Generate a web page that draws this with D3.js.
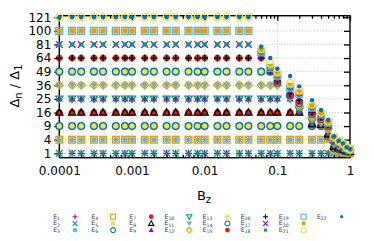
<!DOCTYPE html>
<html><head><meta charset="utf-8">
<script src="https://cdn.jsdelivr.net/npm/d3@7"></script>
<style>body{margin:0;background:#fff}svg{display:block}text{font-family:"DejaVu Sans",sans-serif}</style>
</head><body><svg id="c" width="374" height="241"></svg>
<script>
// ---- data ----
const bz = [0.0001,0.00015,0.0002,0.0003,0.0004,0.0006,0.0008,
            0.001,0.0015,0.002,0.003,0.004,0.006,0.008,
            0.01,0.015,0.02,0.03,0.04,0.06,0.08,
            0.1,0.15,0.2,0.3,0.4,0.5,0.6,0.7,0.8,0.9,1];
const yTicks = [1,4,9,16,25,36,49,64,81,100,121];
const xTicks = [0.0001,0.001,0.01,0.1,1];
const xTickLabels = ["0.0001","0.001","0.01","0.1","1"];
const seriesNames = ["E1","E2","E3","E4","E5","E6","E7","E8","E9","E10","E11","E12","E13","E14","E15","E16","E17","E18","E19","E20","E21","E22"];
const E1  = [1,1,1,1,1,1,1, 1,1,1,1,1,1,1, 1,1,1,1,1,1,1, 1,1,1,1,1,1,1,1,1,0.95,0.9];
const E2  = [1,1,1,1,1,1,1, 1,1,1,1,1,1,1, 1,1,1,1,1,1,1, 1,1,1,1,1,1,1.05,1,1,0.97,0.92];
const E3  = [4,4,4,4,4,4,4, 4,4,4,4,4,4,4, 4,4,4,4,4,4,4, 4,4,4,4,4,4,1.3,1.2,1.1,1.05,1];
const E4  = [4,4,4,4,4,4,4, 4,4,4,4,4,4,4, 4,4,4,4,4,4,4, 4,4,4,4,4,4.2,1.5,1.35,1.2,1.1,1.05];
const E5  = [9,9,9,9,9,9,9, 9,9,9,9,9,9,9, 9,9,9,9,9,9,9, 9,9,9,9,9,4.5,1.7,1.5,1.35,1.2,1.1];
const E6  = [9,9,9,9,9,9,9, 9,9,9,9,9,9,9, 9,9,9,9,9,9,9, 9,9,9,9,9,4.9,1.9,1.65,1.45,1.3,1.15];
const E7  = [16,16,16,16,16,16,16, 16,16,16,16,16,16,16, 16,16,16,16,16,16,16, 16,16,16,9.5,9.3,5.3,2.1,1.8,1.55,1.35,1.2];
const E8  = [16,16,16,16,16,16,16, 16,16,16,16,16,16,16, 16,16,16,16,16,16,16, 16,16,16,10,9.6,5.8,2.3,1.95,1.65,1.4,1.25];
const E9  = [25,25,25,25,25,25,25, 25,25,25,25,25,25,25, 25,25,25,25,25,25,25, 25,25,17,10.5,10,6.3,2.5,2.1,1.75,1.45,1.3];
const E10 = [25,25,25,25,25,25,25, 25,25,25,25,25,25,25, 25,25,25,25,25,25,25, 25,25,17.5,11,10.3,6.8,2.7,2.25,1.85,1.5,1.33];
const E11 = [36,36,36,36,36,36,36, 36,36,36,36,36,36,36, 36,36,36,36,36,36,36, 36,26,19,12,10.7,7.3,2.9,2.4,1.95,1.55,1.36];
const E12 = [36,36,36,36,36,36,36, 36,36,36,36,36,36,36, 36,36,36,36,36,36,36, 36,26.5,20,13,11.2,7.8,3.1,2.55,2.05,1.6,1.4];
const E13 = [49,49,49,49,49,49,49, 49,49,49,49,49,49,49, 49,49,49,49,49,49,49, 37,27,21,14,11.8,8.3,3.3,2.7,2.15,1.65,1.43];
const E14 = [49,49,49,49,49,49,49, 49,49,49,49,49,49,49, 49,49,49,49,49,49,49, 38,27.5,22,15,12.3,8.8,3.5,2.85,2.25,1.7,1.46];
const E15 = [64,64,64,64,64,64,64, 64,64,64,64,64,64,64, 64,64,64,64,64,64,49.5, 39,28,23,15.5,12.8,9.2,3.7,3,2.35,1.75,1.5];
const E16 = [64,64,64,64,64,64,64, 64,64,64,64,64,64,64, 64,64,64,64,64,64,49.8, 40,29,24,16,13.3,9.6,3.9,3.1,2.45,1.8,1.53];
const E17 = [81,81,81,81,81,81,81, 81,81,81,81,81,81,81, 81,81,81,81,81,67,50, 41,31,26,17,13.8,10,4.1,3.2,2.55,1.85,1.56];
const E18 = [81,81,81,81,81,81,81, 81,81,81,81,81,81,81, 81,81,81,81,81,69,50.5, 42,32,27,18,14.3,10.3,4.3,3.3,2.6,1.9,1.6];
const E19 = [100,100,100,100,100,100,100, 100,100,100,100,100,100,100, 100,100,100,100,100,71,53, 45,34,29,19,15,10.6,4.5,3.4,2.7,1.95,1.63];
const E20 = [100,100,100,100,100,100,100, 100,100,100,100,100,100,100, 100,100,100,100,100,73,54, 46,36,30,20,15.5,10.9,4.7,3.5,2.8,2,1.66];
const E21 = [121,121,121,121,121,121,121, 121,121,121,121,121,121,121, 121,121,121,121,121,75,58, 49,38,32,21,16,11.2,4.9,3.6,2.9,2.05,1.7];
const E22 = [121,121,121,121,121,121,121, 121,121,121,121,121,121,121, 121,121,121,121,121,78,64, 52,44.6,35,24,17.5,11.9,5,3.7,3,2.1,1.75];
const seriesValues = [E1,E2,E3,E4,E5,E6,E7,E8,E9,E10,E11,E12,E13,E14,E15,E16,E17,E18,E19,E20,E21,E22];

// ---- styles ----
const C = {pu:"#9400d3",gr:"#009e73",lb:"#56b4e9",or:"#e69f00",ye:"#f0e442",bl:"#0072b2",re:"#e51e10",bk:"#000000"};
const styles = [
 ["plus",C.pu,3.5],["cross",C.gr,3.3],["star",C.lb,3.3],["sqO",C.or,3.4],["sqF",C.ye,3.1],["ciO",C.bl,3.4],
 ["ciF",C.re,3.3],["trUO",C.bk,3.6],["trUF",C.pu,3.6],["trDO",C.gr,3.6],["trDF",C.lb,3.6],["diO",C.or,3.9],
 ["diF",C.ye,3.8],["ciO",C.bl,3.4],["ciF",C.re,3.3],["plus",C.bk,3.5],["cross",C.pu,3.3],["sqF",C.gr,2.1],
 ["sqO",C.lb,3.5],["sqF",C.or,2.6],["ciO",C.ye,3.6],["ciF",C.bl,2.2]
];

const svg = d3.select("#c");
const L = 59.3, R = 350, T = 15.7, B = 157.7;
const x = d3.scaleLog().domain([0.0001,1]).range([L,R]);
const y = d3.scaleSqrt().domain([0.46,123.5]).range([B,T]);

// grid
const g = svg.append("g");
g.selectAll(".hg").data(yTicks).join("line")
  .attr("x1",L).attr("x2",R).attr("y1",d=>y(d)).attr("y2",d=>y(d))
  .attr("stroke","#b8b8b8").attr("stroke-width",0.9).attr("stroke-dasharray","1,2");
g.selectAll(".vg").data(xTicks.slice(1,-1)).join("line")
  .attr("y1",T).attr("y2",B).attr("x1",d=>x(d)).attr("x2",d=>x(d))
  .attr("stroke","#b8b8b8").attr("stroke-width",0.9).attr("stroke-dasharray","1,2");

// axes
const minor = [];
for (let e=-4;e<0;e++) for (let k=2;k<=9;k++) minor.push(k*Math.pow(10,e));
const ax = svg.append("g");
const bottom = d3.axisBottom(x).tickValues(xTicks).tickFormat((d,i)=>xTickLabels[i]).tickSize(-5).tickPadding(9);
ax.append("g").attr("transform",`translate(0,${B})`).call(bottom);
ax.append("g").attr("transform",`translate(0,${B})`).call(d3.axisBottom(x).tickValues(minor).tickFormat("").tickSize(-3));
ax.append("g").attr("transform",`translate(0,${T})`).call(d3.axisTop(x).tickValues(xTicks).tickFormat("").tickSize(-5));
ax.append("g").attr("transform",`translate(0,${T})`).call(d3.axisTop(x).tickValues(minor).tickFormat("").tickSize(-3));
ax.append("g").attr("transform",`translate(${L},0)`).call(d3.axisLeft(y).tickValues(yTicks).tickFormat(d3.format("d")).tickSize(5).tickPadding(3));
ax.append("g").attr("transform",`translate(${R},0)`).call(d3.axisRight(y).tickValues(yTicks).tickFormat("").tickSize(-6));
ax.selectAll(".domain").remove();
ax.selectAll(".tick line").attr("stroke","#000").attr("stroke-width",1.3);
ax.selectAll(".tick text").attr("font-size",12).attr("fill","#000").attr("font-family","DejaVu Sans");
svg.append("rect").attr("x",L).attr("y",T).attr("width",R-L).attr("height",B-T)
  .attr("fill","none").attr("stroke","#000").attr("stroke-width",1.4);

// markers
function marker(sel, type, col, h, sw){
  const open = {stroke:col,"stroke-width":sw,fill:"none"};
  const fill = {fill:col,stroke:"none"};
  let el;
  const a = (e,o)=>{for(const k in o) e.attr(k,o[k]); return e;};
  switch(type){
    case "plus": return a(sel.append("path").attr("d",`M${-h},0H${h}M0,${-h}V${h}`),open);
    case "cross": return a(sel.append("path").attr("d",`M${-h},${-h}L${h},${h}M${-h},${h}L${h},${-h}`),open);
    case "star": return a(sel.append("path").attr("d",`M${-h},0H${h}M0,${-h}V${h}M${-h*.75},${-h*.75}L${h*.75},${h*.75}M${-h*.75},${h*.75}L${h*.75},${-h*.75}`),open);
    case "sqO": return a(sel.append("rect").attr("x",-h).attr("y",-h).attr("width",2*h).attr("height",2*h),open);
    case "sqF": return a(sel.append("rect").attr("x",-h).attr("y",-h).attr("width",2*h).attr("height",2*h),fill);
    case "ciO": return a(sel.append("circle").attr("r",h),open);
    case "ciF": return a(sel.append("circle").attr("r",h),fill);
    case "trUO": return a(sel.append("path").attr("d",`M0,${-h}L${h},${h*.75}L${-h},${h*.75}Z`),open);
    case "trUF": return a(sel.append("path").attr("d",`M0,${-h}L${h},${h*.75}L${-h},${h*.75}Z`),fill);
    case "trDO": return a(sel.append("path").attr("d",`M0,${h}L${h},${-h*.75}L${-h},${-h*.75}Z`),open);
    case "trDF": return a(sel.append("path").attr("d",`M0,${h}L${h},${-h*.75}L${-h},${-h*.75}Z`),fill);
    case "diO": return a(sel.append("path").attr("d",`M0,${-h}L${h},0L0,${h}L${-h},0Z`),open);
    case "diF": return a(sel.append("path").attr("d",`M0,${-h}L${h},0L0,${h}L${-h},0Z`),fill);
  }
}

const pts = svg.append("g");
seriesValues.forEach((vals,i)=>{
  const [type,col,h] = styles[i];
  const gs = pts.append("g");
  vals.forEach((v,j)=>{
    const m = gs.append("g").attr("transform",`translate(${x(bz[j])},${y(v)})`);
    marker(m,type,col,h,1.3);
  });
});

// labels
svg.append("text").attr("x",204).attr("y",200).attr("text-anchor","middle").attr("font-size",13)
  .text("B").append("tspan").attr("font-size",10).attr("dy",3).text("z");
const yl = svg.append("text").attr("transform","translate(19,86) rotate(-90)").attr("text-anchor","middle").attr("font-size",13);
yl.append("tspan").text("Δ");
yl.append("tspan").attr("font-size",10).attr("dy",3).text("n");
yl.append("tspan").attr("dy",-3).text(" / Δ");
yl.append("tspan").attr("font-size",10).attr("dy",3).text("1");

// legend
const lg = svg.append("g");
seriesNames.forEach((nm,i)=>{
  const col = Math.floor(i/3), row = i%3;
  const lx = 60 + col*38.1, sx = 75 + col*38.1, ly = 216.7 + row*6.7;
  const t = lg.append("text").attr("x",lx).attr("y",ly+2).attr("text-anchor","end").attr("font-size",6.2).attr("fill","#333");
  t.append("tspan").text("E");
  t.append("tspan").attr("font-size",4.6).attr("dy",1.2).text(nm.slice(1));
  const [type,c,h] = styles[i];
  const m = lg.append("g").attr("transform",`translate(${sx},${ly})`);
  marker(m,type,c,h*0.72,1.1);
});
</script></body></html>
